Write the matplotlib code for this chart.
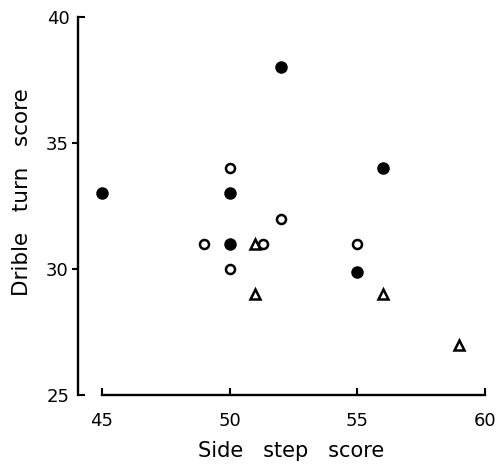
import matplotlib
matplotlib.use('Agg')
import matplotlib.pyplot as plt

# dados
filled_x = [52, 45, 50, 56, 50, 55]
filled_y = [38, 33, 33, 34, 31, 29.9]

open_x = [50, 52, 49, 51.3, 55, 50]
open_y = [34, 32, 31, 31, 31, 30]

tri_x = [51, 51, 56, 59]
tri_y = [31, 29, 29, 27]

x_ticks = [45, 50, 55, 60]
y_ticks_out = [30, 35]
y_ticks_in = [25, 40]

plt.rcParams['font.family'] = ['DejaVu Sans']

fig = plt.figure(figsize=(5.01, 4.66), dpi=100)
ax = fig.add_axes([78 / 501, 1 - 395 / 466, 412 / 501, 378 / 466])

ax.plot(filled_x, filled_y, 'o', color='black', markersize=8, linestyle='none')
ax.plot(open_x, open_y, 'o', markerfacecolor='white', markeredgecolor='black',
        markeredgewidth=1.8, markersize=6.5, linestyle='none')
ax.plot(tri_x, tri_y, '^', markerfacecolor='white', markeredgecolor='black',
        markeredgewidth=1.8, markersize=7, linestyle='none')

ax.set_xlim(44.06, 60.2)
ax.set_ylim(25, 40)
ax.set_xticks(x_ticks)
ax.set_yticks(y_ticks_out)
ax.set_yticks(y_ticks_in, minor=True)
ax.set_yticklabels([str(v) for v in y_ticks_in], minor=True)

ax.spines['top'].set_visible(False)
ax.spines['right'].set_visible(False)
ax.spines['bottom'].set_bounds(45, 60)
ax.spines['left'].set_bounds(25, 40)
ax.spines['bottom'].set_linewidth(1.7)
ax.spines['left'].set_linewidth(1.7)

ax.tick_params(axis='x', direction='in', length=5, width=1.5, pad=12, labelsize=13)
ax.tick_params(axis='y', which='major', direction='out', length=4, width=1.5, pad=3, labelsize=13)
ax.tick_params(axis='y', which='minor', direction='in', length=5, width=1.5, pad=6, labelsize=13)

ax.set_xlabel('Side   step   score', fontsize=15)
ax.set_ylabel('Drible   turn   score', fontsize=15.5)
ax.xaxis.set_label_coords(0.517, -0.122)
ax.yaxis.set_label_coords(-0.112, 0.538)

fig.savefig('out.png', dpi=100)
